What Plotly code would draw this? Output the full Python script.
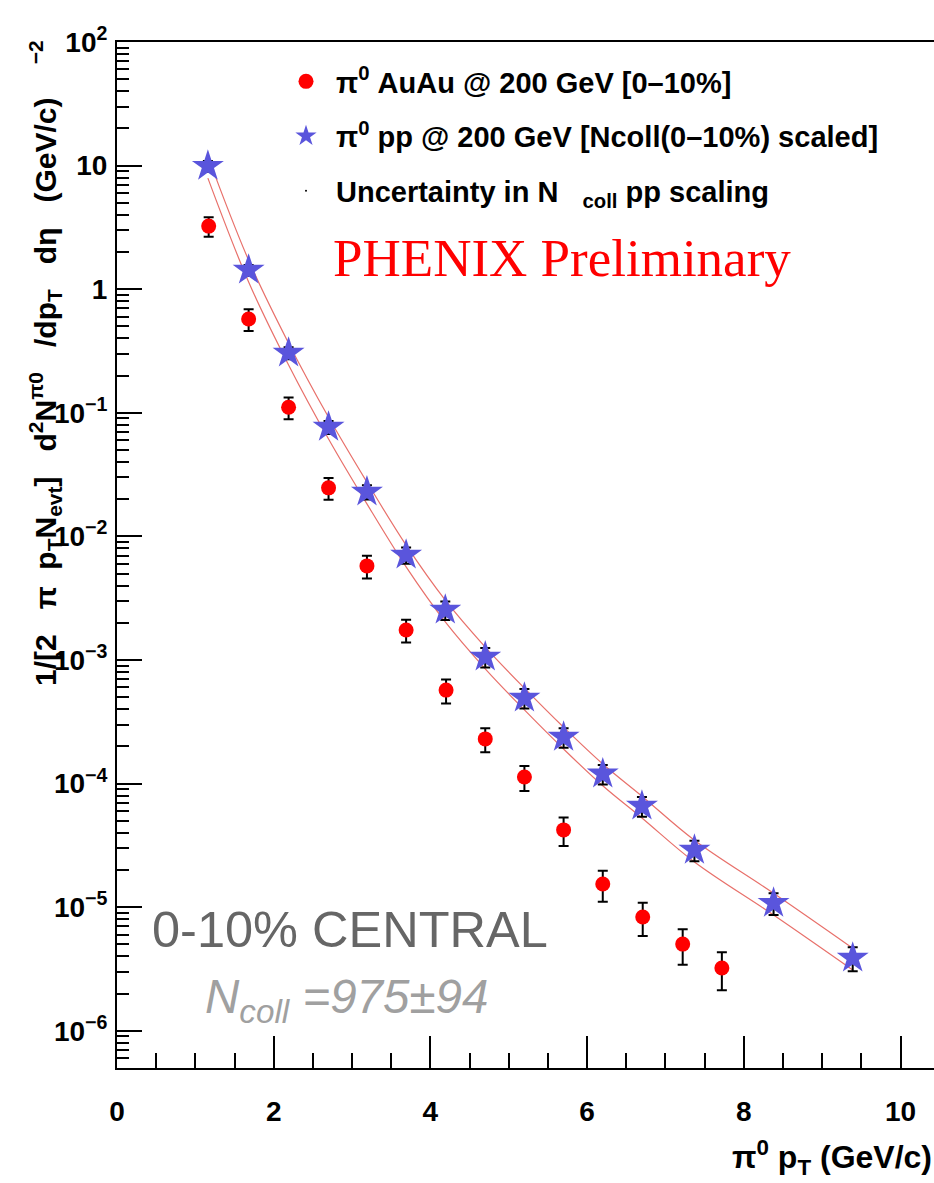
import plotly.graph_objects as go

# ---------------- data ----------------
auau_pt = [1.17, 1.68, 2.19, 2.70, 3.19, 3.69, 4.20, 4.70, 5.20, 5.70, 6.20, 6.71, 7.22, 7.72]
auau_yield = [3.24, 0.574, 0.111, 0.0247, 5.77e-3, 1.75e-3, 5.71e-4, 2.30e-4, 1.13e-4,
              4.22e-5, 1.54e-5, 8.34e-6, 5.03e-6, 3.22e-6]
auau_relerr = [0.18, 0.20, 0.20, 0.20, 0.21, 0.21, 0.22, 0.22, 0.23, 0.26, 0.28, 0.30, 0.32, 0.34]

pp_pt = [1.16, 1.68, 2.19, 2.70, 3.19, 3.69, 4.19, 4.70, 5.20, 5.70, 6.20, 6.70, 7.37, 8.38, 9.39]
pp_yield = [9.9, 1.43, 0.305, 0.0767, 0.0229, 7.08e-3, 2.54e-3, 1.06e-3, 4.93e-4, 2.38e-4,
            1.20e-4, 6.59e-5, 2.90e-5, 1.08e-5, 3.88e-6]
pp_relerr = [0.10, 0.10, 0.11, 0.12, 0.13, 0.15, 0.17, 0.18, 0.18, 0.18, 0.18, 0.18, 0.19, 0.20, 0.22]

band_frac = 0.20  # relative Ncoll-scaling uncertainty band drawn around pp

x_ticks = [0, 2, 4, 6, 8, 10]
x_minor = [0.5, 1, 1.5, 2.5, 3, 3.5, 4.5, 5, 5.5, 6.5, 7, 7.5, 8.5, 9, 9.5, 10.5]
y_ticks = [1e2, 1e1, 1e0, 1e-1, 1e-2, 1e-3, 1e-4, 1e-5, 1e-6]
y_ticktext = ["10<sup>2</sup>", "10", "1", "10<sup>−1</sup>", "10<sup>−2</sup>", "10<sup>−3</sup>",
              "10<sup>−4</sup>", "10<sup>−5</sup>", "10<sup>−6</sup>"]

# ---------------- figure ----------------
y_minor = []
for e in range(-7, 2):
    for m in range(2, 10):
        y_minor.append(m * 10 ** e)

fig = go.Figure()

band_hi = [v * (1 + band_frac) for v in pp_yield]
band_lo = [v * (1 - band_frac) for v in pp_yield]
for band in (band_hi, band_lo):
    fig.add_trace(go.Scatter(x=pp_pt, y=band, mode="lines", line=dict(color="#e8706a", width=1.2, shape="spline"),
                             showlegend=False, hoverinfo="skip"))

fig.add_trace(go.Scatter(
    x=auau_pt, y=auau_yield, mode="markers", legendgroup="a",
    name="π<sup>0</sup> AuAu @ 200 GeV [0–10%]",
    marker=dict(symbol="circle", size=15, color="#ff0000"),
    error_y=dict(type="data", array=[v * r for v, r in zip(auau_yield, auau_relerr)],
                 color="black", thickness=2, width=5),
))
fig.add_trace(go.Scatter(
    x=pp_pt, y=pp_yield, mode="markers", legendgroup="b",
    name="π<sup>0</sup> pp @ 200 GeV [Ncoll(0–10%) scaled]",
    marker=dict(symbol="star", size=24, color="#5a55dc"),
    error_y=dict(type="data", array=[v * r for v, r in zip(pp_yield, pp_relerr)],
                 color="black", thickness=2, width=5),
))
fig.add_trace(go.Scatter(
    x=[None], y=[None], mode="markers", legendgroup="c",
    name="Uncertainty in N   <sub>coll</sub> pp scaling",
    marker=dict(symbol="circle", size=2, color="black"),
))

fig.update_layout(
    width=934, height=1183,
    margin=dict(l=117, r=0, t=42, b=115),
    paper_bgcolor="white", plot_bgcolor="white",
    showlegend=True,
    legend=dict(x=(276 - 117) / 817, y=1 - (56 - 42) / 1026, xanchor="left", yanchor="top",
                bgcolor="rgba(0,0,0,0)", tracegroupgap=14, itemwidth=50,
                font=dict(family="Liberation Sans", size=29, color="black", weight="bold")),
    xaxis=dict(range=[0, 817 / 78.35], tickvals=x_ticks, ticktext=[str(v) for v in x_ticks],
               ticks="inside", ticklen=32, tickwidth=1.5, tickcolor="black",
               showline=True, linecolor="black", linewidth=2, mirror=True,
               showgrid=False, zeroline=False,
               tickfont=dict(family="Liberation Sans", size=28, color="black", weight="bold"),
               ticklabelstandoff=17,
               minor=dict(tickvals=x_minor, ticks="inside", ticklen=15, tickwidth=1.5, tickcolor="black",
                          showgrid=False)),
    yaxis=dict(type="log", range=[-6.301, 2], tickvals=y_ticks, ticktext=y_ticktext,
               ticks="inside", ticklen=25, tickwidth=1.5, tickcolor="black",
               showline=True, linecolor="black", linewidth=2, mirror=False,
               showgrid=False, zeroline=False,
               tickfont=dict(family="Liberation Sans", size=28, color="black", weight="bold"),
               ticklabelstandoff=2,
               minor=dict(tickvals=y_minor, ticks="inside", ticklen=12, tickwidth=1.5, tickcolor="black",
                          showgrid=False)),
)

# y-axis title
fig.add_annotation(xref="paper", yref="paper", x=(45 - 117) / 817, y=(1068 - 363) / 1026,
                   text="1/[2   π  p<sub>T</sub>N<sub>evt</sub>]   d<sup>2</sup>N<sup>π0</sup>   /dp<sub>T</sub>   dη   (GeV/c)    <sup>−2</sup>",
                   textangle=-90, showarrow=False, xanchor="center", yanchor="middle",
                   font=dict(family="Liberation Sans", size=30, color="black", weight="bold"))
# x-axis title
fig.add_annotation(xref="paper", yref="paper", x=1, y=-(1157 - 1068) / 1026,
                   text="π<sup>0</sup> p<sub>T</sub> (GeV/c)", showarrow=False,
                   xanchor="right", yanchor="middle",
                   font=dict(family="Liberation Sans", size=32, color="black", weight="bold"))

fig.add_annotation(xref="paper", yref="paper", x=(331 - 117) / 817, y=(1068 - 258) / 1026,
                   text="PHENIX Preliminary", showarrow=False, xanchor="left", yanchor="middle",
                   font=dict(family="Liberation Serif", size=53, color="#ff0000"))
fig.add_annotation(xref="paper", yref="paper", x=(150 - 117) / 817, y=(1068 - 929) / 1026,
                   text="0-10% CENTRAL", showarrow=False, xanchor="left", yanchor="middle",
                   font=dict(family="Liberation Sans", size=50.5, color="#666666"))
fig.add_annotation(xref="paper", yref="paper", x=(203 - 117) / 817, y=(1068 - 1000) / 1026,
                   text="<i>N<sub>coll</sub> =975±94</i>", showarrow=False, xanchor="left", yanchor="middle",
                   font=dict(family="Liberation Sans", size=47.5, color="#a0a0a0"))

fig.write_html("out.html")
